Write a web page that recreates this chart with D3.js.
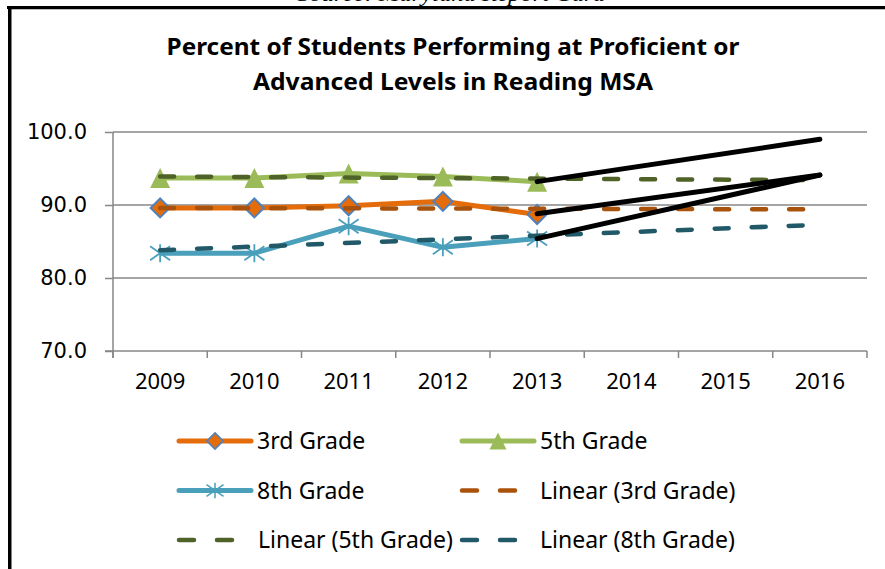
<!DOCTYPE html>
<html>
<head>
<meta charset="utf-8">
<script src="https://cdn.jsdelivr.net/npm/d3@7"></script>
<style>
  body { margin: 0; background: #fff; }
  svg { display: block; }
  text { font-family: "Noto Sans", "DejaVu Sans", sans-serif; fill: #000; }
</style>
</head>
<body>
<svg id="chart"></svg>
<script>
// data
const years = [2009, 2010, 2011, 2012, 2013, 2014, 2015, 2016];
const dataYears = [2009, 2010, 2011, 2012, 2013];
const grade3 = [89.6, 89.6, 89.9, 90.5, 88.7];
const grade5 = [93.7, 93.7, 94.3, 93.9, 93.2];
const grade8 = [83.4, 83.4, 87.1, 84.2, 85.4];
const trendYears = [2009, 2016];
const trend3 = [89.6, 89.4];
const trend5 = [93.9, 93.4];
const trend8 = [83.8, 87.3];
const goalYears = [2013, 2016];
const goal5 = [93.2, 99.0];
const goal3 = [88.8, 94.1];
const goal8 = [85.4, 94.1];
const yTicks = [70, 80, 90, 100];

const W = 885, H = 569;
const plot = { left: 113, right: 867, top: 132, bottom: 351 };

const svg = d3.select("#chart").attr("width", W).attr("height", H);

// frame + caption (cut off at the top, as in the source page)
svg.append("text")
  .attr("x", 451).attr("y", 1)
  .attr("text-anchor", "middle")
  .attr("textLength", 308).attr("lengthAdjust", "spacingAndGlyphs")
  .style("font-family", "'Liberation Serif', serif")
  .style("font-style", "italic")
  .style("font-size", "20px")
  .text("Source: Maryland Report Card");
svg.append("rect").attr("x", 7).attr("y", 6).attr("width", W - 7).attr("height", 3).attr("fill", "#000");
svg.append("rect").attr("x", 11).attr("y", 9).attr("width", W - 11).attr("height", 1).attr("fill", "#bbb");
svg.append("rect").attr("x", 8).attr("y", 6).attr("width", 3.5).attr("height", H - 6).attr("fill", "#000");

// title
const titleLines = [
  { t: "Percent of Students Performing at Proficient or", y: 55, w: 573 },
  { t: "Advanced Levels in Reading MSA", y: 90, w: 400 }
];
svg.selectAll(".title")
  .data(titleLines)
  .enter()
  .append("text")
  .attr("class", "title")
  .attr("x", 453)
  .attr("y", (d) => d.y)
  .attr("text-anchor", "middle")
  .attr("textLength", (d) => d.w)
  .attr("lengthAdjust", "spacingAndGlyphs")
  .style("font-size", "24px")
  .style("font-weight", "bold")
  .text((d) => d.t);

const x = d3.scaleBand().domain(years).range([plot.left, plot.right]);
const y = d3.scaleLinear().domain([70, 100]).range([plot.bottom, plot.top]);
const cx = (yr) => x(yr) + x.bandwidth() / 2;

const grid = "#878787";

// gridlines
svg.append("g")
  .selectAll("line")
  .data(yTicks.slice(1))
  .enter()
  .append("line")
  .attr("x1", plot.left).attr("x2", plot.right)
  .attr("y1", (d) => y(d)).attr("y2", (d) => y(d))
  .attr("stroke", grid).attr("stroke-width", 1.5);

// y axis
const yAxis = svg.append("g")
  .attr("transform", `translate(${plot.left},0)`)
  .call(d3.axisLeft(y).tickValues(yTicks).tickFormat(d3.format(".1f")).tickSize(8).tickPadding(18));
yAxis.select(".domain").attr("stroke", grid).attr("stroke-width", 1.5).attr("d", `M0,${plot.top}V${plot.bottom + 7}`);
yAxis.selectAll(".tick line").attr("stroke", grid).attr("stroke-width", 1.5);
yAxis.selectAll("text").style("font-size", "21px").style("font-family", "'DejaVu Sans', sans-serif").attr("fill", "#000");

// x axis
const xAxis = svg.append("g")
  .attr("transform", `translate(0,${plot.bottom})`)
  .call(d3.axisBottom(x).tickSize(0).tickPadding(22));
xAxis.select(".domain").attr("stroke", grid).attr("stroke-width", 1.5).attr("d", `M${plot.left - 8},0H${plot.right}`);
xAxis.selectAll(".tick text").style("font-size", "22px").attr("fill", "#000");
xAxis.selectAll(".sep")
  .data(years.concat([null]))
  .enter()
  .append("line")
  .attr("x1", (d, i) => plot.left + i * x.bandwidth())
  .attr("x2", (d, i) => plot.left + i * x.bandwidth())
  .attr("y1", 0).attr("y2", 7)
  .attr("stroke", grid).attr("stroke-width", 1.5);

// series definitions
const diamond = "M0,-9.5L9.5,0L0,9.5L-9.5,0Z";
const triangle = "M0,-10L10,10L-10,10Z";
const star = "M0,-9V9M-10,-7L10,7M-10,7L10,-7";

const series = [
  { name: "3rd Grade", values: grade3, color: "#E46C0A", marker: diamond, mfill: "#E46C0A", mstroke: "#4F81BD", mw: 2 },
  { name: "5th Grade", values: grade5, color: "#9BBB59", marker: triangle, mfill: "#9BBB59", mstroke: "none", mw: 0 },
  { name: "8th Grade", values: grade8, color: "#4A9FBB", marker: star, mfill: "none", mstroke: "#4A9FBB", mw: 1.8 }
];
const trends = [
  { name: "Linear (3rd Grade)", values: trend3, color: "#A9520C" },
  { name: "Linear (5th Grade)", values: trend5, color: "#4F6228" },
  { name: "Linear (8th Grade)", values: trend8, color: "#215968" }
];
const goals = [goal5, goal3, goal8];

const line = d3.line().x((d) => cx(d.yr)).y((d) => y(d.v));

series.forEach((s) => {
  const pts = dataYears.map((yr, i) => ({ yr: yr, v: s.values[i] }));
  svg.append("path")
    .datum(pts)
    .attr("d", line)
    .attr("fill", "none")
    .attr("stroke", s.color)
    .attr("stroke-width", 5)
    .attr("stroke-linejoin", "round");
  svg.append("g")
    .selectAll("path")
    .data(pts)
    .enter()
    .append("path")
    .attr("transform", (d) => `translate(${cx(d.yr)},${y(d.v)})`)
    .attr("d", s.marker)
    .attr("fill", s.mfill)
    .attr("stroke", s.mstroke)
    .attr("stroke-width", s.mw);
});

trends.forEach((t) => {
  const pts = trendYears.map((yr, i) => ({ yr: yr, v: t.values[i] }));
  svg.append("path")
    .datum(pts)
    .attr("d", line)
    .attr("fill", "none")
    .attr("stroke", t.color)
    .attr("stroke-width", 4.5)
    .attr("stroke-linecap", "round")
    .attr("stroke-dasharray", "14,23");
});

goals.forEach((g) => {
  const pts = goalYears.map((yr, i) => ({ yr: yr, v: g[i] }));
  svg.append("path")
    .datum(pts)
    .attr("d", line)
    .attr("fill", "none")
    .attr("stroke", "#000")
    .attr("stroke-width", 5)
    .attr("stroke-linecap", "round");
});

// legend
const legendItems = [
  { s: series[0], col: 0, row: 0 },
  { s: series[1], col: 1, row: 0 },
  { s: series[2], col: 0, row: 1 },
  { s: trends[0], col: 1, row: 1, dash: true },
  { s: trends[1], col: 0, row: 2, dash: true },
  { s: trends[2], col: 1, row: 2, dash: true }
];
const legend = svg.selectAll(".legend")
  .data(legendItems)
  .enter()
  .append("g")
  .attr("class", "legend")
  .attr("transform", (d) => `translate(${179 + d.col * 283},${441 + d.row * 49.5})`);

legend.append("line")
  .attr("x1", 0).attr("x2", (d) => (d.dash ? 57 : 72))
  .attr("stroke", (d) => d.s.color)
  .attr("stroke-width", (d) => (d.dash ? 4.5 : 5))
  .attr("stroke-linecap", "round")
  .attr("stroke-dasharray", (d) => (d.dash ? "15,23" : null));

legend.filter((d) => !d.dash)
  .append("path")
  .attr("transform", "translate(36,0) scale(0.85)")
  .attr("d", (d) => d.s.marker)
  .attr("fill", (d) => d.s.mfill)
  .attr("stroke", (d) => d.s.mstroke)
  .attr("stroke-width", (d) => d.s.mw);

legend.append("text")
  .attr("x", (d) => (d.dash && d.col === 0 ? 79 : 78))
  .attr("y", 0)
  .attr("dy", "0.35em")
  .style("font-size", "23px")
  .text((d) => d.s.name);
</script>
</body>
</html>
